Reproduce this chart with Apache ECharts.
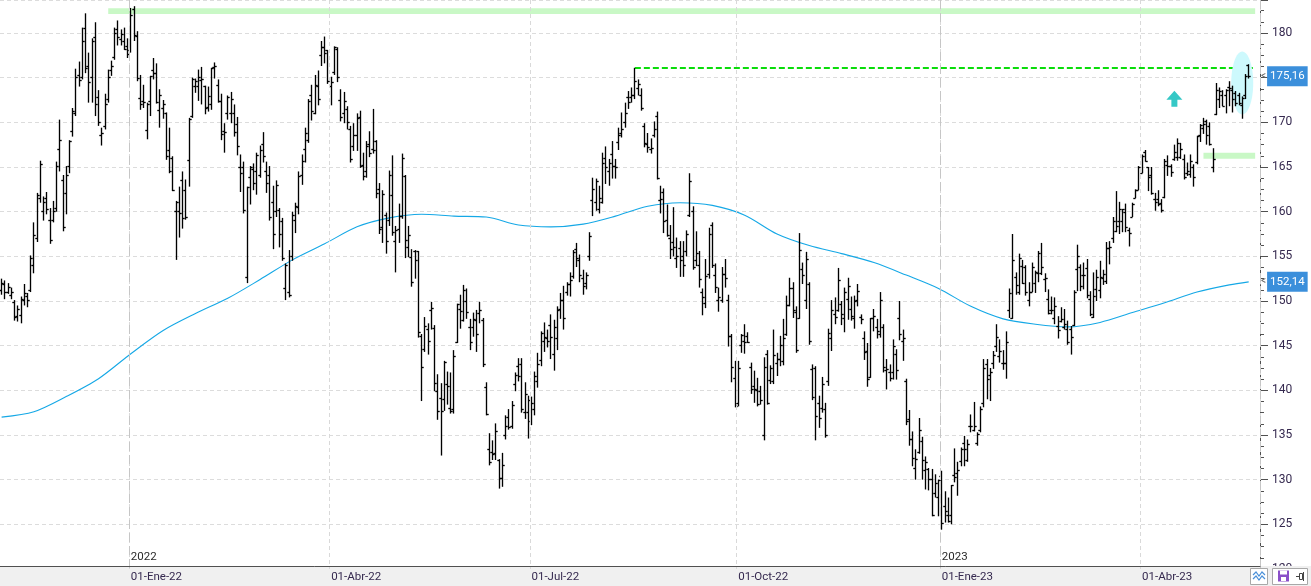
<!DOCTYPE html>
<html>
<head>
<meta charset="utf-8">
<title>Barras diarias con media de 200 sesiones</title>
<script src="https://cdn.jsdelivr.net/npm/echarts@6/dist/echarts.min.js"></script>
<style>
  html, body { margin: 0; padding: 0; background: #fff; }
  #chart { width: 1311px; height: 586px; }
</style>
</head>
<body>
<div id="chart"></div>
<script>
// sesiones: del 04-nov-21 al 19-may-23 (dias habiles sin festivos del mercado) + 3 huecos a la derecha
const firstDay = '2021-11-04';
const lastDay = '2023-05-19';
const padDays = 3;
const holidays = ['2021-11-25', '2021-12-24', '2022-01-17', '2022-02-21', '2022-04-15', '2022-05-30',
    '2022-06-20', '2022-07-04', '2022-09-05', '2022-11-24', '2022-12-26', '2023-01-02', '2023-01-16',
    '2023-02-20', '2023-04-07'];
const monthNames = ['Ene', 'Feb', 'Mar', 'Abr', 'May', 'Jun', 'Jul', 'Ago', 'Sep', 'Oct', 'Nov', 'Dic'];

const openP = [
    151.2,151.8,151.0,150.6,149.8,148.3,148.4,150.0,150.5,151.2,
    154.0,157.0,161.5,160.0,161.5,159.0,159.0,160.3,167.0,163.5,
    162.0,165.0,169.0,171.0,175.2,175.0,180.5,176.2,175.0,179.5,
    172.8,168.5,169.5,172.5,175.8,177.2,180.4,179.3,179.0,178.5,
    178.0,182.6,179.6,172.7,172.3,169.1,172.3,175.8,175.5,171.3,
    171.5,171.0,166.9,166.0,160.0,160.0,163.5,162.4,165.7,170.6,
    174.0,174.0,174.7,174.0,171.7,172.0,176.1,174.1,172.3,169.0,
    171.0,171.0,171.0,169.8,164.9,164.9,152.6,163.8,164.7,164.5,
    164.0,167.5,164.5,164.0,161.0,160.0,160.1,158.9,151.4,150.9,
    155.0,159.0,160.5,164.0,167.0,168.0,173.0,171.0,174.0,177.5,
    178.4,178.0,174.0,175.6,178.2,172.4,171.0,171.4,169.2,167.3,
    168.5,170.5,165.2,164.5,167.5,167.0,167.9,162.5,158.2,159.6,
    159.0,161.8,156.7,158.0,159.5,163.9,156.0,154.9,155.5,155.5,
    146.0,144.6,146.8,148.9,146.9,139.9,139.1,139.0,140.6,138.0,
    137.8,145.4,149.1,147.8,149.9,147.0,147.0,147.8,148.6,147.8,
    140.3,133.4,133.0,132.9,132.1,130.1,134.9,137.0,136.0,140.7,
    142.7,142.9,137.5,137.5,136.5,137.8,141.0,143.3,145.5,145.8,
    147.3,144.0,145.8,149.1,150.0,151.0,151.9,152.7,155.8,154.5,
    152.5,152.0,155.0,161.2,161.0,160.2,161.0,166.0,164.5,166.4,
    165.0,167.7,168.8,170.0,172.8,172.8,173.0,173.8,173.0,169.5,
    167.5,167.0,168.5,170.6,161.2,162.1,159.0,157.0,156.6,154.8,
    155.9,155.0,155.5,159.6,160.0,154.5,154.0,150.9,149.7,153.0,
    158.5,152.8,150.0,150.0,153.0,150.0,146.0,141.3,138.5,145.0,
    145.5,146.0,142.5,140.4,140.0,139.9,134.9,144.0,141.1,141.0,
    143.0,143.5,143.2,146.2,149.5,151.4,148.7,148.0,153.5,150.0,
    151.9,142.3,142.4,138.5,138.0,137.9,141.0,145.8,148.5,148.9,
    149.6,148.0,150.2,149.0,148.0,150.0,148.2,145.8,144.3,141.4,
    148.0,147.0,146.2,147.0,142.2,142.0,142.0,144.0,148.0,145.5,
    141.0,136.7,134.5,131.2,133.0,134.3,131.0,131.1,130.0,128.4,
    128.0,130.3,127.0,126.0,126.0,130.5,130.7,132.0,134.0,132.2,
    136.0,135.5,134.0,135.5,138.5,142.9,141.7,143.0,144.9,143.8,
    143.0,143.0,148.9,148.0,152.6,150.9,153.9,153.8,150.0,151.0,
    152.0,153.1,153.1,152.4,150.2,148.9,148.0,147.1,147.7,147.0,
    146.8,146.8,147.3,153.5,153.8,152.9,153.6,150.2,148.2,151.3,
    151.2,152.5,152.2,155.9,157.0,157.8,158.9,158.9,159.9,157.9,
    159.4,161.5,162.4,164.3,166.6,164.9,164.0,161.4,161.4,160.9,
    161.6,165.2,165.1,165.8,166.1,166.1,165.8,164.3,164.2,164.9,
    165.5,168.5,169.3,170.1,169.5,164.9,170.9,172.5,173.0,173.0,
    173.9,173.6,173.2,173.0,171.9,173.0,176.4
];
const highP = [
    152.5,152.3,152.0,151.5,150.1,149.5,150.5,151.9,150.9,155.1,
    158.8,162.1,165.7,161.7,162.2,160.4,161.2,165.6,170.3,164.1,
    165.1,168.0,171.6,176.0,176.8,180.6,182.2,177.8,179.4,181.2,
    173.6,169.4,173.2,175.9,176.9,180.6,181.4,180.4,180.6,179.4,
    182.8,183.0,180.2,175.3,174.2,172.2,175.2,177.2,176.6,173.7,
    172.5,171.1,169.4,166.2,161.2,162.8,164.5,163.6,170.5,175.0,
    174.9,175.9,176.2,174.1,174.0,176.1,176.7,174.8,173.2,169.9,
    173.0,173.4,172.0,170.6,166.4,165.6,162.8,165.1,165.4,166.6,
    167.4,168.9,165.6,165.1,162.9,163.5,160.4,159.3,154.2,155.7,
    160.0,161.0,164.5,166.4,169.4,172.6,174.2,175.3,175.8,179.1,
    179.6,178.1,175.1,178.5,178.4,173.7,173.4,171.8,169.6,169.9,
    171.0,171.3,166.6,167.9,169.0,171.5,168.0,163.2,162.4,159.9,
    164.6,166.3,158.4,160.9,166.5,164.1,158.4,155.8,155.7,155.6,
    146.3,148.2,147.5,149.9,147.3,141.8,140.8,143.3,142.1,142.0,
    144.5,149.7,150.7,151.8,151.4,148.0,148.7,149.0,149.9,148.1,
    140.9,135.2,134.4,136.3,132.3,133.0,137.2,137.9,138.8,142.0,
    143.6,143.6,140.9,139.4,139.3,142.1,144.2,146.6,147.6,146.8,
    148.5,147.9,149.4,150.9,151.7,152.1,153.2,155.7,156.5,155.2,
    153.5,153.2,157.7,163.8,163.7,162.9,166.6,167.3,165.9,167.9,
    165.9,169.4,171.1,172.2,173.5,173.9,176.1,174.8,173.8,169.9,
    168.8,168.2,170.1,171.2,162.9,162.6,160.8,158.5,160.5,157.1,
    156.7,156.7,157.9,164.3,160.6,157.8,155.6,151.4,154.7,158.2,
    158.8,154.2,151.5,153.8,154.7,150.7,146.3,143.3,143.3,146.3,
    147.4,146.5,143.1,142.2,141.4,140.5,143.7,144.5,142.8,146.8,
    144.2,146.1,148.0,150.6,152.6,152.1,149.4,157.6,154.3,155.5,
    152.1,142.9,142.7,139.4,141.5,138.6,146.9,150.1,150.4,153.7,
    150.0,151.5,152.6,150.5,150.6,151.9,148.5,146.6,145.3,148.1,
    149.1,148.0,151.0,147.4,143.5,142.9,145.7,144.6,150.0,146.8,
    141.3,137.8,135.4,133.4,136.9,134.8,132.6,131.3,131.2,130.6,
    130.0,131.0,128.7,128.0,129.4,133.5,132.0,133.6,134.9,134.5,
    137.3,138.7,135.3,138.2,143.5,143.5,142.5,144.4,147.4,145.7,
    144.5,146.6,151.4,157.5,153.2,155.3,154.6,154.0,152.1,154.3,
    153.4,155.6,156.5,153.1,151.3,150.5,150.4,148.3,149.3,149.1,
    147.8,147.2,151.2,156.3,154.1,154.3,154.7,151.1,153.2,153.5,
    154.5,153.5,156.6,156.7,159.4,162.3,161.1,160.3,160.9,158.2,
    161.0,162.5,165.1,166.4,166.9,165.0,165.0,162.1,162.4,161.4,
    165.9,166.3,165.3,167.5,168.2,167.7,166.4,165.5,166.4,165.3,
    168.5,169.8,170.5,170.3,170.0,167.1,174.4,173.9,173.6,173.7,
    174.6,174.1,173.5,173.3,172.9,175.4,176.5
];
const lowP = [
    150.7,150.2,150.8,150.2,147.8,147.7,147.5,149.5,149.3,151.0,
    153.1,156.6,161.0,159.0,159.7,156.4,158.8,160.0,164.5,157.8,
    159.7,164.3,168.4,170.7,174.0,174.8,175.5,172.2,172.2,170.7,
    169.6,167.4,169.2,172.2,175.2,177.0,178.6,178.6,178.1,177.2,
    177.8,179.1,174.6,171.4,171.6,168.1,170.7,174.8,172.1,169.4,
    170.4,165.8,164.3,162.3,154.6,157.1,158.1,159.1,162.8,170.5,
    173.3,172.4,172.0,170.9,171.2,171.4,174.9,172.2,168.0,166.6,
    170.3,169.9,168.4,166.3,162.2,159.8,152.0,160.8,162.4,161.9,
    163.8,165.5,162.1,159.0,155.8,159.4,156.0,154.5,150.1,150.4,
    154.5,157.6,159.7,163.0,165.5,167.7,170.2,170.9,171.9,176.3,
    176.6,174.3,171.9,175.3,174.5,170.1,169.9,169.2,165.5,166.8,
    166.8,164.9,163.5,163.8,166.1,166.5,161.5,157.5,156.5,155.3,
    158.4,157.3,153.2,156.5,159.2,154.8,154.9,151.6,152.5,145.9,
    138.8,144.3,144.0,146.8,139.9,136.7,132.7,137.7,138.4,137.4,
    137.4,145.3,146.9,147.7,148.0,144.5,146.0,144.3,147.5,142.6,
    137.2,131.6,132.2,132.2,129.0,129.2,134.5,135.6,135.7,139.9,
    141.0,137.5,136.8,134.6,136.1,137.2,140.3,142.7,144.3,144.8,
    143.5,142.2,144.5,148.0,146.8,150.6,150.5,152.5,153.8,152.1,
    150.7,151.3,154.5,159.5,160.1,159.8,160.9,163.1,162.9,163.7,
    163.7,166.9,168.3,169.4,171.5,172.2,172.6,173.0,171.3,167.2,
    166.6,166.5,168.3,163.6,159.8,157.6,157.2,154.7,155.0,153.7,
    152.7,152.7,155.0,159.4,153.5,153.9,151.5,148.4,149.2,152.5,
    153.7,150.9,148.8,149.8,151.5,144.9,140.9,138.1,138.2,144.2,
    144.1,145.3,139.6,138.6,138.2,138.4,134.4,138.4,140.7,140.7,
    141.6,142.7,142.8,146.1,149.4,148.1,144.2,148.0,151.9,149.1,
    145.1,138.9,134.4,135.8,137.5,134.7,140.5,144.4,147.4,148.8,
    147.3,146.5,147.9,147.8,146.9,149.4,147.4,143.4,140.4,141.4,
    146.6,145.8,145.9,142.0,140.1,141.0,141.2,141.2,145.6,143.3,
    136.1,133.8,131.5,130.0,132.9,130.0,128.9,128.8,125.9,128.0,
    125.9,124.4,125.2,125.2,125.0,129.7,128.2,131.5,131.5,132.0,
    135.3,135.4,133.8,135.3,138.1,139.0,138.8,142.4,144.3,143.1,
    142.3,141.3,148.1,148.0,150.7,150.7,151.9,150.6,149.4,151.0,
    150.9,152.1,152.9,151.0,148.5,148.5,147.4,145.8,147.6,146.8,
    145.1,144.0,147.2,151.1,151.1,151.3,150.3,148.3,148.1,150.0,
    150.3,151.8,151.9,154.1,156.5,157.7,157.5,157.7,157.7,156.1,
    159.4,161.5,162.4,164.3,165.6,162.3,161.9,160.1,160.6,159.9,
    161.5,164.0,163.9,165.7,165.7,165.9,163.6,164.0,163.8,162.8,
    165.3,167.8,168.7,167.5,167.4,164.4,170.8,171.6,171.8,171.0,
    171.8,171.1,171.8,171.9,170.4,172.6,174.9
];
const closeP = [
    152.0,150.9,151.5,151.0,148.2,149.0,150.2,150.8,150.0,154.8,
    157.3,161.8,165.3,161.0,160.2,156.8,160.0,165.0,168.0,158.2,
    164.0,167.9,171.2,175.0,174.7,179.0,176.0,174.5,179.0,172.0,
    170.0,168.8,172.0,175.0,176.3,179.9,179.5,179.8,178.2,177.6,
    182.0,179.7,174.9,172.0,172.2,172.0,175.1,175.5,172.2,173.0,
    172.0,166.2,164.5,162.4,161.0,159.8,159.2,159.4,170.3,174.8,
    174.6,175.0,174.8,171.5,172.9,176.0,176.2,172.3,168.6,168.9,
    172.8,172.6,168.9,167.3,164.3,160.1,162.7,164.9,163.2,166.3,
    166.8,166.2,163.2,159.3,157.4,162.9,157.4,154.7,154.0,150.6,
    159.6,160.6,163.9,165.6,168.8,172.3,171.2,174.1,172.5,178.4,
    177.7,174.6,174.4,178.4,175.0,170.5,172.3,170.0,165.8,168.5,
    170.4,165.0,163.9,167.3,166.5,166.9,162.0,158.0,161.9,156.7,
    164.0,157.7,157.9,159.5,166.0,156.8,157.3,152.1,154.5,146.5,
    142.6,147.1,145.5,149.2,140.8,137.6,137.6,143.1,140.4,137.6,
    143.8,149.6,148.8,151.2,148.7,145.4,147.9,146.2,148.9,142.9,
    137.3,131.9,132.8,135.4,130.1,131.6,135.9,135.8,138.3,141.7,
    141.5,137.8,139.5,138.9,138.5,141.6,142.9,146.4,145.9,145.5,
    145.9,147.0,148.9,150.0,148.0,151.8,152.3,155.4,154.7,152.9,
    151.6,152.9,157.2,162.5,163.4,161.5,165.4,164.9,165.4,165.0,
    164.9,168.5,169.2,171.0,172.2,173.0,174.6,174.2,171.5,167.6,
    167.2,167.1,169.2,163.7,161.4,158.9,157.3,155.8,156.0,155.0,
    154.5,154.0,157.4,163.4,153.8,155.3,152.4,150.4,152.7,157.4,
    154.0,151.5,150.4,153.0,152.5,146.0,142.5,138.2,142.4,146.1,
    145.4,145.4,140.1,140.1,138.4,138.9,142.5,138.5,142.4,143.9,
    143.4,145.0,145.8,149.5,151.4,148.9,144.5,155.7,152.9,154.6,
    145.5,139.2,137.1,136.9,140.6,134.9,146.4,148.9,148.2,152.3,
    148.5,150.9,151.6,148.3,149.9,151.1,147.9,144.2,141.2,148.0,
    148.3,146.6,150.0,142.6,142.3,141.3,144.9,142.2,146.2,145.8,
    136.5,134.5,132.4,132.3,135.5,132.2,131.9,130.0,126.0,129.6,
    129.9,125.1,126.4,125.3,129.3,130.2,131.0,133.4,133.4,133.9,
    135.9,135.9,135.0,137.9,142.4,141.2,142.0,143.9,145.9,144.3,
    143.0,145.4,150.8,154.5,151.7,154.7,152.0,151.0,151.0,153.8,
    153.2,155.3,153.7,152.5,148.6,148.9,149.4,146.7,147.9,147.4,
    145.3,145.9,151.0,155.0,151.6,152.9,150.6,148.5,150.5,152.6,
    152.6,153.0,155.9,156.0,158.9,158.3,160.2,160.2,158.2,157.6,
    160.8,162.4,164.9,166.2,165.6,163.8,162.0,161.0,160.8,160.1,
    165.6,165.0,164.4,166.6,167.6,167.0,163.8,164.5,165.6,163.8,
    168.4,169.6,169.7,168.5,167.5,165.8,173.6,173.5,171.8,173.6,
    173.8,172.6,172.1,172.1,172.7,175.1,175.16
];

// media movil de 200 sesiones, leida cada 10 barras
const maIdx = [0,10,20,30,40,50,60,70,80,90,100,110,120,130,140,150,160,170,180,190,
    200,210,220,230,240,250,260,270,280,290,300,310,320,330,340,350,360,370,380,386];
const maVal = [137.0,137.6,139.3,141.3,144.1,146.7,148.6,150.3,152.4,154.6,156.4,158.3,159.3,159.7,159.5,159.4,158.5,158.3,158.6,159.5,
    160.6,161.0,160.7,159.6,157.5,156.2,155.3,154.3,152.9,151.4,149.4,148.0,147.4,147.1,147.6,148.7,149.8,151.0,151.8,152.14];

const lastClose = 175.16;
const lastMa = 152.14;
const resistHigh = [182.12, 182.76];   // banda verde de maximos
const resistAug = 176.15;              // maximo de agosto
const supportBand = [165.91, 166.58];

function buildDates() {
    const out = [];
    const d = new Date(firstDay + 'T00:00:00Z');
    let after = 0;
    while (out.length < 1000) {
        const s = d.toISOString().slice(0, 10);
        const wd = d.getUTCDay();
        if (wd !== 0 && wd !== 6 && holidays.indexOf(s) < 0) {
            if (s > lastDay) {
                if (after === padDays) break;
                after++;
            }
            out.push(s);
        }
        d.setUTCDate(d.getUTCDate() + 1);
    }
    return out;
}
const dates = buildDates();

function monthOf(s) { return +s.slice(5, 7); }
function isQuarterStart(i) {
    if (i <= 0 || !dates[i]) return false;
    const m = monthOf(dates[i]);
    return m !== monthOf(dates[i - 1]) && (m - 1) % 3 === 0;
}
function isYearStart(i) {
    if (i <= 0 || !dates[i]) return false;
    return dates[i].slice(0, 4) !== dates[i - 1].slice(0, 4);
}
function quarterLabel(v) {
    return '01-' + monthNames[monthOf(v) - 1] + '-' + v.slice(2, 4);
}

const ohlcData = highP.map((h, i) => [i, openP[i], h, lowP[i], closeP[i]]);
const maData = maIdx.map((k, j) => [dates[k], maVal[j]]);

function renderOhlc(params, api) {
    const i = api.value(0);
    const x = Math.round(api.coord([i, 150])[0] - 0.5) + 0.5;
    const snap = v => Math.round(v - 0.5) + 0.5;
    const yo = snap(api.coord([i, api.value(1)])[1]);
    const yh = api.coord([i, api.value(2)])[1];
    const yl = api.coord([i, api.value(3)])[1];
    const yc = snap(api.coord([i, api.value(4)])[1]);
    const st = { stroke: '#000', lineWidth: 1.35 };
    return {
        type: 'group',
        children: [
            { type: 'line', shape: { x1: x, y1: yh, x2: x, y2: yl }, style: st },
            { type: 'line', shape: { x1: x - 2.2, y1: yo, x2: x, y2: yo }, style: st },
            { type: 'line', shape: { x1: x, y1: yc, x2: x + 2.2, y2: yc }, style: st }
        ]
    };
}

const fmt = v => v.toFixed(2).replace('.', ',');
function priceTag(value) {
    return {
        yAxis: value,
        lineStyle: { color: 'rgba(0,0,0,0)', width: 1 },
        label: {
            show: true,
            position: 'end',
            distance: 1,
            formatter: '{a|<}{b|' + fmt(value) + '}',
            rich: {
                a: { color: '#666', fontSize: 10, padding: [0, 1, 0, 0] },
                b: { color: '#fff', backgroundColor: '#3b8fdb', fontSize: 11.5, fontFamily: 'Roboto', padding: [4, 3, 4, 3] }
            }
        }
    };
}

const ellipsePath = 'path://M50,0 C77.6,0 100,22.4 100,50 C100,77.6 77.6,100 50,100 C22.4,100 0,77.6 0,50 C0,22.4 22.4,0 50,0 Z';
const arrowPath = 'path://M8,0 L16,9 L11,9 L11,16 L5,16 L5,9 L0,9 Z';

const chart = echarts.init(document.getElementById('chart'));
const axisColor = '#505050';
const labelColor = '#35294f';

chart.setOption({
    animation: false,
    backgroundColor: '#fff',
    textStyle: { fontFamily: 'Roboto' },
    grid: { left: 0, right: 51, top: 0, bottom: 17 },
    xAxis: [{
        type: 'category',
        data: dates,
        boundaryGap: true,
        offset: -3,
        z: 60,
        axisLine: { lineStyle: { color: axisColor } },
        axisTick: { interval: isQuarterStart, length: 10, lineStyle: { color: axisColor } },
        axisLabel: { interval: isQuarterStart, formatter: quarterLabel, align: 'left', margin: 5, color: labelColor, fontSize: 11.5 },
        splitLine: { show: true, interval: isQuarterStart, lineStyle: { color: '#d9d9d9', type: [4, 3] } }
    }, {
        type: 'category',
        data: dates,
        boundaryGap: true,
        position: 'bottom',
        offset: -3,
        z: 60,
        axisLine: { show: false },
        axisTick: { inside: true, interval: isYearStart, length: 13, lineStyle: { color: axisColor } },
        axisLabel: { inside: true, interval: isYearStart, formatter: v => v.slice(0, 4), align: 'left', margin: 3, color: '#2a2a2a', fontSize: 11.5 },
        splitLine: { show: true, interval: isYearStart, lineStyle: { color: '#c6c6c6', type: [9, 4] } }
    }],
    yAxis: {
        type: 'value',
        position: 'right',
        min: 120,
        max: 183.69,
        interval: 5,
        z: 0,
        axisLine: { show: true, lineStyle: { color: axisColor } },
        axisTick: { show: true, length: 8, lineStyle: { color: axisColor } },
        minorTick: { show: true, splitNumber: 4, length: 4, lineStyle: { color: axisColor } },
        axisLabel: { margin: 12, color: labelColor, fontSize: 12, showMaxLabel: false },
        splitLine: { lineStyle: { color: '#dcdcdc', type: [4, 3] } }
    },
    series: [{
        name: 'MM200',
        type: 'line',
        data: maData,
        z: 1,
        symbol: 'none',
        smooth: 0.3,
        silent: true,
        lineStyle: { color: '#15a8e6', width: 1.1 },
        markArea: {
            silent: true,
            data: [
                [{ xAxis: dates[33], yAxis: resistHigh[0], itemStyle: { color: '#c9f8c6' } }, { xAxis: dates[388], yAxis: resistHigh[1] }],
                [{ xAxis: dates[372], yAxis: supportBand[0], itemStyle: { color: '#c9f8c6' } }, { xAxis: dates[388], yAxis: supportBand[1] }]
            ]
        },
        markLine: {
            silent: true,
            symbol: ['none', 'none'],
            data: [
                [{ coord: [dates[196], resistAug], lineStyle: { color: '#0adc0a', width: 2, type: [6, 3] }, label: { show: false } },
                 { coord: [dates[388], resistAug] }]
            ]
        },
        markPoint: {
            silent: true,
            label: { show: false },
            data: [
                { coord: [dates[384], 174.39], symbol: ellipsePath, symbolSize: [22, 63], itemStyle: { color: '#cdf9fd' } },
                { coord: [dates[363], 172.63], symbol: arrowPath, symbolSize: [16, 16], itemStyle: { color: '#35c8c6' } }
            ]
        }
    }, {
        // etiquetas de precio sobre el eje derecho
        name: 'Etiquetas',
        type: 'line',
        data: [],
        clip: false,
        silent: true,
        markLine: {
            silent: true,
            symbol: ['none', 'none'],
            data: [priceTag(lastClose), priceTag(lastMa)]
        }
    }, {
        name: 'Barras',
        type: 'custom',
        z: 10,
        silent: true,
        renderItem: renderOhlc,
        encode: { x: 0, y: [1, 2, 3, 4] },
        data: ohlcData
    }],
    graphic: [
        { type: 'rect', z: 50, silent: true, shape: { x: 0, y: 566, width: 1311, height: 20 }, style: { fill: '#f0f0f0' } },
        { type: 'rect', z: 70, silent: true, shape: { x: 1250.5, y: 568.5, width: 17, height: 16 }, style: { fill: '#fff', stroke: '#a8a8a8' } },
        { type: 'polyline', z: 71, silent: true, shape: { points: [[1253, 575], [1256, 572], [1259, 576], [1262, 572], [1265, 575]] }, style: { stroke: '#4a90d9', lineWidth: 1.2, fill: null } },
        { type: 'polyline', z: 71, silent: true, shape: { points: [[1253, 579], [1256, 576], [1259, 580], [1262, 576], [1265, 579]] }, style: { stroke: '#4a90d9', lineWidth: 1.2, fill: null } },
        { type: 'rect', z: 70, silent: true, shape: { x: 1272.5, y: 568.5, width: 35, height: 16 }, style: { fill: '#fff', stroke: '#a8a8a8' } },
        { type: 'rect', z: 71, silent: true, shape: { x: 1278, y: 570.5, width: 11, height: 11 }, style: { fill: '#8a4fc9' } },
        { type: 'rect', z: 72, silent: true, shape: { x: 1280, y: 570.5, width: 7, height: 4 }, style: { fill: '#fff' } },
        { type: 'rect', z: 72, silent: true, shape: { x: 1281, y: 577, width: 5, height: 4 }, style: { fill: '#fff' } },
        { type: 'polyline', z: 71, silent: true, shape: { points: [[1296, 576.5], [1299, 576.5]] }, style: { stroke: '#444', lineWidth: 1 } },
        { type: 'rect', z: 71, silent: true, shape: { x: 1299.5, y: 573.5, width: 3, height: 6 }, style: { fill: '#fff', stroke: '#444' } },
        { type: 'polyline', z: 71, silent: true, shape: { points: [[1303.5, 572], [1303.5, 581]] }, style: { stroke: '#444', lineWidth: 1 } }
    ]
});
</script>
</body>
</html>
